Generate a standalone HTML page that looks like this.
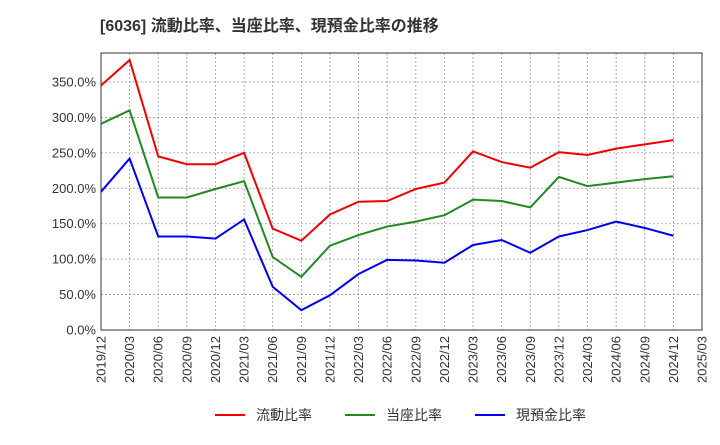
<!DOCTYPE html>
<html><head><meta charset="utf-8"><style>
body{margin:0;background:#fff;font-family:"Liberation Sans","Noto Sans CJK JP",sans-serif;}
</style></head><body>
<svg id="c" width="720" height="440" xmlns="http://www.w3.org/2000/svg" style="font-family:'Liberation Sans','Noto Sans CJK JP',sans-serif">
<text x="100" y="31" font-size="16" font-weight="bold" fill="#333">[6036]  流動比率、当座比率、現預金比率の推移</text>
<g id="grid"></g><g id="axes"></g><g id="series"></g><g id="legend"></g>
</svg>
<script>
const categories=["2019/12","2020/03","2020/06","2020/09","2020/12","2021/03","2021/06","2021/09","2021/12","2022/03","2022/06","2022/09","2022/12","2023/03","2023/06","2023/09","2023/12","2024/03","2024/06","2024/09","2024/12","2025/03"];
const currentRatio=[345,381,245,234,234,250,143,126,163,181,182,199,208,252,237,229,251,247,256,262,268];
const quickRatio=[291,310,187,187,199,210,103,75,119,134,146,153,162,184,182,173,216,203,208,213,217];
const cashRatio=[195,242,132,132,129,156,61,28,49,79,99,98,95,120,127,109,132,141,153,144,133];
const yTicks=[0,50,100,150,200,250,300,350];
const seriesNames=["流動比率","当座比率","現預金比率"];
const NS="http://www.w3.org/2000/svg";
const L=101,R=702,T=53,B=330,yMax=350,yTop=82;
const x=i=>L+(R-L)*i/(categories.length-1);
const y=v=>B-(B-yTop)*v/yMax;
function mk(tag,attrs,parent){const e=document.createElementNS(NS,tag);for(const k in attrs)e.setAttribute(k,attrs[k]);parent.appendChild(e);return e;}
const grid=document.getElementById('grid'),axes=document.getElementById('axes'),ser=document.getElementById('series'),leg=document.getElementById('legend');
const frame=mk('rect',{x:L,y:T,width:R-L,height:B-T,fill:'none',stroke:'#333','stroke-width':1},axes);


yTicks.forEach(v=>{
 const g=mk('line',{x1:L,x2:R,y1:y(v),y2:y(v),stroke:'#999','stroke-dasharray':'2,2','stroke-width':0.8},grid);
 
 
 const t=mk('text',{x:L-5,y:y(v)+4.5,'text-anchor':'end','font-size':13,fill:'#333'},axes);
 t.textContent=v.toFixed(1)+'%';
 
 
});
categories.forEach((c,i)=>{
 if(i>0&&i<categories.length-1){const g=mk('line',{x1:x(i),x2:x(i),y1:T,y2:B,stroke:'#999','stroke-dasharray':'2,2','stroke-width':0.8},grid);
 
 }
 const t=mk('text',{x:0,y:0,'text-anchor':'end','font-size':13,fill:'#333',transform:`translate(${x(i)+4.5},${B+6}) rotate(-90)`},axes);
 t.textContent=c;
 
 
});
const colors=['#e00','#282','#00e'];
[currentRatio,quickRatio,cashRatio].forEach((d,k)=>{
 const p=mk('polyline',{points:d.map((v,i)=>x(i)+','+y(v)).join(' '),fill:'none',stroke:colors[k],'stroke-width':2},ser);
 
 
});
const lx=[215,345,475];
seriesNames.forEach((n,k)=>{
 const l=mk('line',{x1:lx[k],x2:lx[k]+30,y1:415,y2:415,stroke:colors[k],'stroke-width':2},leg);
 
 
 const t=mk('text',{x:lx[k]+41,y:420,'font-size':14,fill:'#333'},leg);
 t.textContent=n;
 
 
});
</script>
</body></html>
